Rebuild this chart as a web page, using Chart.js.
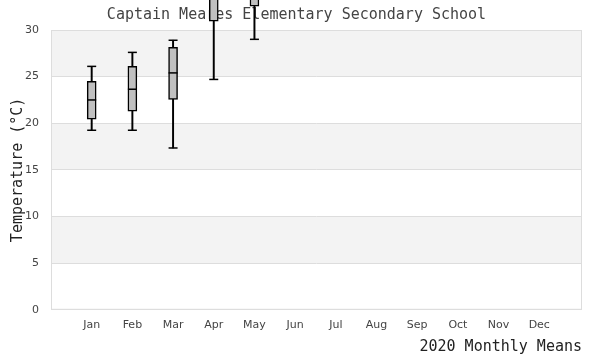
<!DOCTYPE html>
<html>
<head>
<meta charset="utf-8">
<script src="https://cdn.jsdelivr.net/npm/chart.js@4"></script>
<style>
  body { margin: 0; background: #fff; }
  #wrap { width: 600px; height: 360px; }
</style>
</head>
<body>
<div id="wrap"><canvas id="myChart"></canvas></div>
<script>
// monthly mean temperatures, box plot stats (only Jan-May have data)
const months = ['Jan', 'Feb', 'Mar', 'Apr', 'May', 'Jun', 'Jul', 'Aug', 'Sep', 'Oct', 'Nov', 'Dec'];
const lowValues    = [19.25, 19.25, 17.35, 24.7, 29.0];
const q1Values     = [20.45, 21.3, 22.55, 30.95, 32.55];
const medianValues = [22.5, 23.65, 25.4, 33.8, 34.6];
const q3Values     = [24.5, 26.1, 28.15, 35.5, 36.3];
const highValues   = [26.1, 27.6, 28.9, 37.5, 38.2];
const yTicks = [0, 5, 10, 15, 20, 25, 30];

// build points (x = month number, 1..12)
var boxPts = [], whiskerPts = [], medPts = [], capPts = [];
for (let i = 0; i < lowValues.length; i++) {
    boxPts.push({ x: i + 1, y: [q1Values[i], q3Values[i]] });
    whiskerPts.push({ x: i + 1, y: [lowValues[i], highValues[i]] });
    medPts.push({ x: i + 1, y: medianValues[i] });
    capPts.push({ x: i + 1, y: lowValues[i] });
    capPts.push({ x: i + 1, y: highValues[i] });
}

// grey / white bands between the y ticks + frame
const bands = {
    id: 'bands',
    beforeDraw(chart) {
        const ctx = chart.ctx, a = chart.chartArea, y = chart.scales.y;
        ctx.save();
        ctx.fillStyle = '#fff';
        ctx.fillRect(0, 0, chart.width, chart.height);
        for (let i = 0; i < yTicks.length - 1; i++) {
            if (i % 2 == 1) {
                const top = y.getPixelForValue(yTicks[i + 1]);
                const bot = y.getPixelForValue(yTicks[i]);
                ctx.fillStyle = '#f3f3f3';
                ctx.fillRect(a.left, top, a.right - a.left, bot - top);
            }
        }
        ctx.strokeStyle = '#dddddd';
        ctx.lineWidth = 1;
        ctx.strokeRect(a.left + 0.5, a.top + 0.5, a.right - a.left - 1, a.bottom - a.top - 1);
        ctx.restore();
    }
};

const data = {
    datasets: [
        {
            type: 'line', data: medPts, showLine: false, clip: false,
            pointStyle: 'line', pointRadius: 4.5, pointHoverRadius: 4.5,
            borderColor: '#000', pointBorderWidth: 1.5, order: 1
        },
        {
            type: 'line', data: capPts, showLine: false, clip: false,
            pointStyle: 'line', pointRadius: 4.5, pointHoverRadius: 4.5,
            borderColor: '#000', pointBorderWidth: 1.5, order: 2
        },
        {
            type: 'bar', data: boxPts, grouped: false, clip: false,
            barThickness: 9, backgroundColor: '#c0c0c0',
            borderColor: '#000', borderWidth: 1.5, borderSkipped: false, order: 3
        },
        {
            type: 'bar', data: whiskerPts, grouped: false, clip: false,
            barThickness: 1.3, backgroundColor: '#000', borderWidth: 0, order: 4
        }
    ]
};

const config = {
    type: 'bar',
    data: data,
    plugins: [bands],
    options: {
        responsive: true,
        maintainAspectRatio: false,
        animation: false,
        layout: { padding: { left: 11, right: 18, top: 0, bottom: 0 } },
        plugins: {
            legend: { display: false },
            tooltip: { enabled: false },
            title: {
                display: true,
                text: 'Captain Meares Elementary Secondary School',
                color: '#444',
                font: { family: 'DejaVu Sans Mono', size: 15, weight: 'normal' },
                padding: { top: 6, bottom: 6 }
            }
        },
        scales: {
            x: {
                type: 'linear',
                offset: false,
                min: 0, max: 13.05,
                grid: { display: false, drawTicks: false },
                border: { display: false },
                ticks: {
                    stepSize: 1, autoSkip: false, maxRotation: 0,
                    padding: 9, color: '#444',
                    font: { family: 'DejaVu Sans', size: 11 },
                    callback: function (v) { return months[v - 1] || ''; }
                },
                title: {
                    display: true, align: 'end',
                    text: '2020 Monthly Means', color: '#222',
                    font: { family: 'DejaVu Sans Mono', size: 15 },
                    padding: { top: -3, bottom: 4 }
                }
            },
            y: {
                min: 0, max: 30,
                grid: { color: '#dddddd', drawTicks: false },
                border: { display: false },
                ticks: {
                    stepSize: 5, padding: 12, color: '#444',
                    font: { family: 'DejaVu Sans', size: 11 }
                },
                title: {
                    display: true,
                    text: 'Temperature (°C)', color: '#222',
                    font: { family: 'DejaVu Sans Mono', size: 15, lineHeight: 1 },
                    padding: { top: 0, bottom: -13 }
                }
            }
        }
    }
};

var myChart = new Chart(document.getElementById('myChart'), config);
</script>
</body>
</html>
